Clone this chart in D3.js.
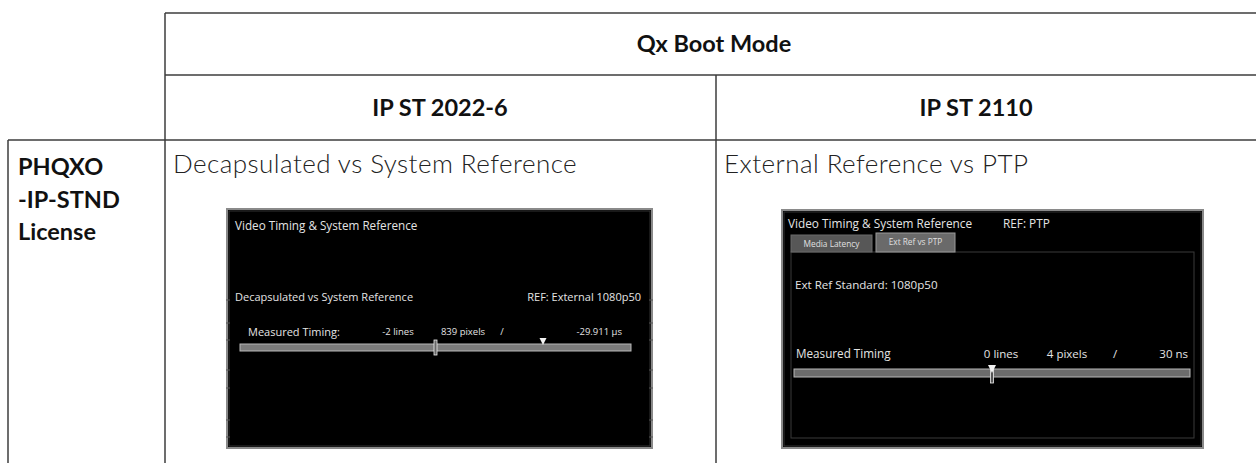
<!DOCTYPE html>
<html>
<head>
<meta charset="utf-8">
<script src="https://cdn.jsdelivr.net/npm/d3@7"></script>
<style>
  html, body { margin: 0; padding: 0; background: #fff; }
  svg { display: block; }
</style>
</head>
<body>
<svg id="chart" width="1256" height="463"></svg>
<script>
// ---------- data ----------
const groupHeader = "Qx Boot Mode";
const columnHeaders = ["IP ST 2022-6", "IP ST 2110"];
const rowHeaderLines = ["PHQXO", "-IP-STND", "License"];
const descriptions = ["Decapsulated vs System Reference", "External Reference vs PTP"];
const screenTitles = ["Video Timing & System Reference", "Video Timing & System Reference"];
const refLabels = ["REF: External 1080p50", "REF: PTP"];
const tabLabels = ["Media Latency", "Ext Ref vs PTP"];
const subLabels = ["Decapsulated vs System Reference", "Ext Ref Standard: 1080p50"];
const measuredLabels = ["Measured Timing:", "Measured Timing"];
const lineOffsets = ["-2 lines", "0 lines"];
const pixelOffsets = ["839 pixels", "4 pixels"];
const timeOffsets = ["-29.911 µs", "30 ns"];
const lineMarkers = [0.0, 0.0];      // position of vertical marker on bar (-1..1)
const timeMarkers = [0.55, 0.0];     // position of triangle marker on bar (-1..1)

// ---------- layout ----------
const svg = d3.select("#chart");
const W = 1256;
const lineColor = "#3c3c3c";
const boldFont = {family: "Lato", weight: 700, size: 23.5};

// table grid
const grid = svg.append("g").attr("stroke", lineColor).attr("stroke-width", 1.5);
const hLines = [
  {x1: 165, x2: W, y: 13},
  {x1: 165, x2: W, y: 75},
  {x1: 8, x2: W, y: 140}
];
grid.selectAll("line.h").data(hLines).enter().append("line")
  .attr("x1", d => d.x1).attr("x2", d => d.x2)
  .attr("y1", d => d.y).attr("y2", d => d.y);
const vLines = [
  {x: 8, y1: 140},
  {x: 165, y1: 13},
  {x: 716, y1: 75}
];
grid.selectAll("line.v").data(vLines).enter().append("line")
  .attr("x1", d => d.x).attr("x2", d => d.x)
  .attr("y1", d => d.y1).attr("y2", 463);

function bold(sel) {
  return sel.attr("font-family", boldFont.family).attr("font-weight", boldFont.weight)
    .attr("font-size", boldFont.size).attr("fill", "#111");
}

// header texts
bold(svg.append("text").text(groupHeader)
  .attr("x", 714).attr("y", 52).attr("text-anchor", "middle"));

const colCenters = [440, 976];
bold(svg.selectAll("text.colh").data(columnHeaders).enter().append("text")
  .attr("x", (d, i) => colCenters[i]).attr("y", 116).attr("text-anchor", "middle")
  .text(d => d));

bold(svg.selectAll("text.rowh").data(rowHeaderLines).enter().append("text")
  .attr("x", 18).attr("y", (d, i) => 175 + i * 32.5)
  .text(d => d));

const descX = [173, 724];
svg.selectAll("text.desc").data(descriptions).enter().append("text")
  .attr("x", (d, i) => descX[i]).attr("y", 173)
  .attr("font-family", "Lato").attr("font-weight", 300).attr("font-size", 26)
  .attr("letter-spacing", 0.45).attr("fill", "#222")
  .text(d => d);

// ---------- screenshot panels ----------
const panels = [
  {x0: 227, y0: 209, x1: 652, y1: 448},
  {x0: 782, y0: 210, x1: 1203, y1: 448}
];
const sf = "Open Sans";
const txt = "#e4e4e4";

function drawScreen(i) {
  const p = panels[i];
  const g = svg.append("g");
  g.append("rect").attr("x", p.x0).attr("y", p.y0)
    .attr("width", p.x1 - p.x0).attr("height", p.y1 - p.y0)
    .attr("fill", "#000").attr("stroke", "#8a8a8a").attr("stroke-width", 2);
  g.append("rect").attr("x", p.x0 + 2).attr("y", p.y0 + 2)
    .attr("width", p.x1 - p.x0 - 4).attr("height", p.y1 - p.y0 - 4)
    .attr("fill", "none").attr("stroke", "#333").attr("stroke-width", 1);
  return g;
}

function t(g, xp, yp, s, size, anchor) {
  return g.append("text").attr("x", xp).attr("y", yp).text(s)
    .attr("text-anchor", anchor || "start")
    .attr("font-family", sf).attr("font-size", size).attr("fill", txt);
}

// left screen
{
  const i = 0, p = panels[0];
  const g = drawScreen(i);
  // faint edge ticks
  const ticks = [300, 323, 340, 370, 388, 420, 437];
  g.selectAll("line.tk").data(ticks).enter().append("line")
    .attr("x1", p.x1 - 3).attr("x2", p.x1 + 1).attr("y1", d => d).attr("y2", d => d)
    .attr("stroke", "#555").attr("stroke-width", 1);
  g.selectAll("line.tk2").data(ticks).enter().append("line")
    .attr("x1", p.x0 - 1).attr("x2", p.x0 + 3).attr("y1", d => d).attr("y2", d => d)
    .attr("stroke", "#555").attr("stroke-width", 1);

  t(g, 235, 230, screenTitles[i], 11.7);
  t(g, 235, 301, subLabels[i], 11);
  t(g, 641, 301, refLabels[i], 11, "end");
  t(g, 248, 336, measuredLabels[i], 11);
  t(g, 398, 335, lineOffsets[i], 9.5, "middle");
  t(g, 463, 335, pixelOffsets[i], 9.5, "middle");
  t(g, 502, 335, "/", 9.5, "middle");
  t(g, 622, 335, timeOffsets[i], 9.5, "end");

  const bar = d3.scaleLinear().domain([-1, 1]).range([240, 631]);
  const by = 344, bh = 7;
  g.append("rect").attr("x", bar(-1)).attr("y", by).attr("width", bar(1) - bar(-1)).attr("height", bh)
    .attr("fill", "#7c7c7c").attr("stroke", "#b8b8b8").attr("stroke-width", 1);
  const lm = bar(lineMarkers[i]);
  g.append("rect").attr("x", lm - 1.5).attr("y", by - 4).attr("width", 3).attr("height", bh + 8)
    .attr("fill", "#666").attr("stroke", "#eee").attr("stroke-width", 0.8);
  const tm = bar(timeMarkers[i]);
  g.append("path").attr("d", `M${tm - 3.5},${by - 6} L${tm + 3.5},${by - 6} L${tm},${by + 1} Z`)
    .attr("fill", "#f2f2f2");
}

// right screen
{
  const i = 1, p = panels[1];
  const g = drawScreen(i);
  t(g, 788, 228, screenTitles[i], 11.8);
  t(g, 1003, 228, refLabels[i], 11.8);
  // content panel
  g.append("rect").attr("x", 791).attr("y", 252).attr("width", 403).attr("height", 186)
    .attr("fill", "#000").attr("stroke", "#3a3a3a").attr("stroke-width", 1);
  // tabs
  const tabs = [
    {x: 791, w: 81, y: 235, fill: "#575757", stroke: "#6a6a6a"},
    {x: 876, w: 79, y: 233, fill: "#6a6a6a", stroke: "#9a9a9a"}
  ];
  g.selectAll("rect.tab").data(tabs).enter().append("rect")
    .attr("x", d => d.x).attr("y", d => d.y).attr("width", d => d.w).attr("height", d => 252 - d.y)
    .attr("fill", d => d.fill).attr("stroke", d => d.stroke).attr("stroke-width", 1);
  g.selectAll("text.tab").data(tabLabels).enter().append("text")
    .attr("x", (d, k) => tabs[k].x + tabs[k].w / 2).attr("y", (d, k) => k === 0 ? 247 : 245)
    .attr("text-anchor", "middle").text(d => d)
    .attr("font-family", sf).attr("font-size", 8.3).attr("fill", "#e0e0e0");

  t(g, 795, 289, subLabels[i], 11.6);
  t(g, 796, 358, measuredLabels[i], 11.7);
  t(g, 1001, 358, lineOffsets[i], 11.5, "middle");
  t(g, 1067, 358, pixelOffsets[i], 11.5, "middle");
  t(g, 1115, 358, "/", 11.5, "middle");
  t(g, 1188, 358, timeOffsets[i], 11.5, "end");

  const bar = d3.scaleLinear().domain([-1, 1]).range([794, 1190]);
  const by = 369, bh = 8;
  g.append("rect").attr("x", bar(-1)).attr("y", by).attr("width", bar(1) - bar(-1)).attr("height", bh)
    .attr("fill", "#6c6c6c").attr("stroke", "#b8b8b8").attr("stroke-width", 1);
  const lm = bar(lineMarkers[i]);
  g.append("rect").attr("x", lm - 1.5).attr("y", by - 2).attr("width", 3).attr("height", bh + 8)
    .attr("fill", "#555").attr("stroke", "#eee").attr("stroke-width", 0.8);
  const tm = bar(timeMarkers[i]);
  g.append("path").attr("d", `M${tm - 4},${by - 4} L${tm + 4},${by - 4} L${tm},${by + 4} Z`)
    .attr("fill", "#f2f2f2");
}
</script>
</body>
</html>
